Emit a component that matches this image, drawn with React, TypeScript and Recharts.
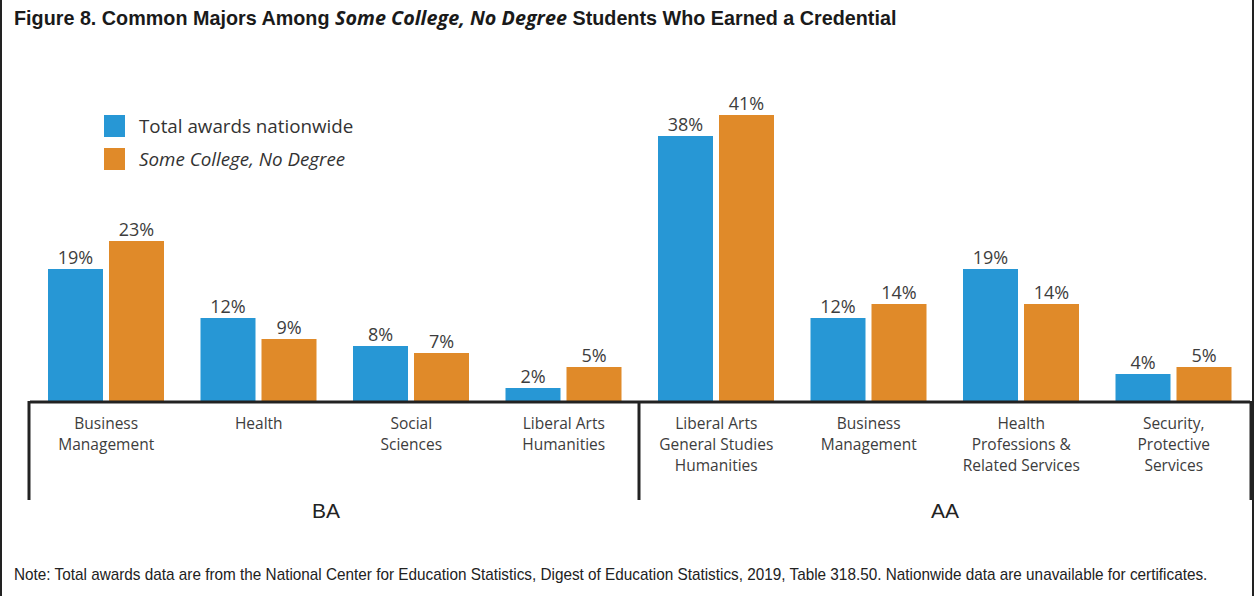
import React, { useLayoutEffect, useRef, useState } from 'react';
import { BarChart, Bar, XAxis, YAxis, LabelList } from 'recharts';

// category labels, one array of lines per category
const categoryLines: string[][] = [
    ['Business', 'Management'],
    ['Health'],
    ['Social', 'Sciences'],
    ['Liberal Arts', 'Humanities'],
    ['Liberal Arts', 'General Studies', 'Humanities'],
    ['Business', 'Management'],
    ['Health', 'Professions &', 'Related Services'],
    ['Security,', 'Protective', 'Services'],
];
const degreeGroups = ['BA', 'BA', 'BA', 'BA', 'AA', 'AA', 'AA', 'AA'];
const totalAwards = [19, 12, 8, 2, 38, 12, 19, 4];
const someCollege = [23, 9, 7, 5, 41, 14, 14, 5];

const BLUE = '#2797D5';
const ORANGE = '#E08A29';
const INK = '#222222';
const TEXT = '#3d3d3d';
const NARROW = "'Liberation Sans', Arial, sans-serif";
const groupNudge: Record<string, number> = { BA: -9, AA: 0 };

const chartData = categoryLines.map((lines, i) => ({
    key: `c${i}`,
    group: degreeGroups[i],
    total: totalAwards[i],
    scnd: someCollege[i],
}));

// squeezes a line of text horizontally to a given width (fakes a condensed face)
const FitText = ({ x, y, width, children, ...rest }: any) => {
    const ref = useRef<SVGTextElement>(null);
    const [s, setS] = useState(1);
    useLayoutEffect(() => {
        if (ref.current) {
            const w = ref.current.getBBox().width;
            if (w > 0) setS(width / w);
        }
    }, [width]);
    return (
        <g transform={`translate(${x},${y}) scale(${s},1)`}>
            <text ref={ref} x={0} y={0} {...rest}>{children}</text>
        </g>
    );
};

const CategoryTick = (props: any) => {
    const { x, y, payload } = props;
    const i: number = payload.index;
    const half: number = payload.offset || 76;
    const lines = categoryLines[i] || [];
    const group = degreeGroups[i];
    const startsGroup = i === 0 || degreeGroups[i - 1] !== group;
    const endsLast = i === categoryLines.length - 1;
    // group label sits at the middle of its run of categories
    const members = degreeGroups.map((g, j) => (g === group ? j : -1)).filter(j => j >= 0);
    const mid = (members[0] + members[members.length - 1]) / 2;
    const labelHere = Math.floor(mid) === i;
    return (
        <g>
            {lines.map((t, k) => (
                <text
                    key={k}
                    x={x}
                    y={y + 27 + k * 21}
                    textAnchor="middle"
                    fill={TEXT}
                    fontSize={15.5}
                    fontFamily="'Open Sans', sans-serif"
                >
                    {t}
                </text>
            ))}
            {startsGroup && (
                <line x1={x - half - 1} x2={x - half - 1} y1={y - 1} y2={y + 98} stroke={INK} strokeWidth={3} />
            )}
            {endsLast && (
                <line x1={x + half + 1} x2={x + half + 1} y1={y - 1} y2={y + 98} stroke={INK} strokeWidth={3} />
            )}
            {labelHere && (
                <text
                    x={x + (mid - i) * half * 2 + (groupNudge[group] || 0)}
                    y={y + 116}
                    textAnchor="middle"
                    fill="#222"
                    fontSize={21}
                    fontFamily={NARROW}
                >
                    {group}
                </text>
            )}
        </g>
    );
};

const pct = (v: any) => `${v}%`;

export default function App() {
    return (
        <div style={{ position: 'absolute', left: 0, top: 0, width: 1257, height: 596, background: '#fff', overflow: 'hidden' }}>
            {/* frame sides */}
            <div style={{ position: 'absolute', left: 0, top: 0, width: 2, height: 596, background: INK }} />
            <div style={{ position: 'absolute', left: 1252, top: 0, width: 2, height: 596, background: INK }} />

            {/* title and note */}
            <svg width={1257} height={596} style={{ position: 'absolute', left: 0, top: 0 }}>
                <FitText x={14} y={25} width={883} fontFamily={NARROW} fontWeight={700} fontSize={20} fill="#1a1a1a">
                    Figure 8. Common Majors Among{' '}
                    <tspan fontFamily="'Open Sans', sans-serif" fontStyle="italic" fontWeight={700}>Some College, No Degree</tspan>
                    {' '}Students Who Earned a Credential
                </FitText>
                <FitText x={14} y={580} width={1194} fontFamily={NARROW} fontSize={17} fill="#222">
                    Note: Total awards data are from the National Center for Education Statistics, Digest of Education Statistics, 2019, Table 318.50. Nationwide data are unavailable for certificates.
                </FitText>
            </svg>

            <BarChart
                width={1257}
                height={596}
                data={chartData}
                margin={{ top: 87, right: 7, bottom: 94, left: 30 }}
                barSize={55}
                barGap={6}
                style={{ position: 'absolute', left: 0, top: 0 }}
            >
                <YAxis hide domain={[0, 45]} />
                <XAxis
                    dataKey="key"
                    height={100}
                    interval={0}
                    tickLine={false}
                    tickSize={0}
                    tickMargin={0}
                    axisLine={{ stroke: INK, strokeWidth: 3 }}
                    tick={<CategoryTick />}
                />
                <Bar dataKey="total" fill={BLUE} isAnimationActive={false}>
                    <LabelList dataKey="total" position="top" formatter={pct} fill={TEXT} fontSize={18} fontFamily="'Open Sans', sans-serif" />
                </Bar>
                <Bar dataKey="scnd" fill={ORANGE} isAnimationActive={false}>
                    <LabelList dataKey="scnd" position="top" formatter={pct} fill={TEXT} fontSize={18} fontFamily="'Open Sans', sans-serif" />
                </Bar>
            </BarChart>

            {/* legend */}
            <div style={{ position: 'absolute', left: 104, top: 115, fontFamily: "'Open Sans', sans-serif", fontSize: 18.8, color: '#333' }}>
                <div style={{ display: 'flex', alignItems: 'center', height: 22, marginBottom: 11 }}>
                    <div style={{ width: 21, height: 22, background: BLUE, marginRight: 14 }} />
                    <span>Total awards nationwide</span>
                </div>
                <div style={{ display: 'flex', alignItems: 'center', height: 22 }}>
                    <div style={{ width: 21, height: 22, background: ORANGE, marginRight: 14 }} />
                    <span style={{ fontStyle: 'italic' }}>Some College, No Degree</span>
                </div>
            </div>
        </div>
    );
}
